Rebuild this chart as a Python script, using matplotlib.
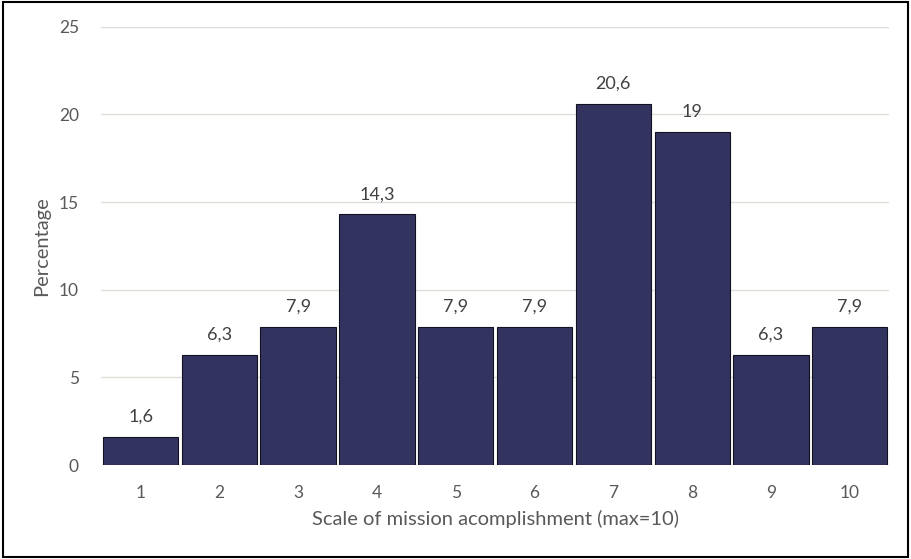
import matplotlib.pyplot as plt
from matplotlib.patches import Rectangle

plt.rcParams['font.family'] = ['Lato', 'DejaVu Sans']

scale = ['1', '2', '3', '4', '5', '6', '7', '8', '9', '10']
percentage = [1.6, 6.3, 7.9, 14.3, 7.9, 7.9, 20.6, 19, 6.3, 7.9]

txt = '#595959'
fig = plt.figure(figsize=(9.11, 5.59), dpi=100)
ax = fig.add_axes([0.111, 0.168, 0.865, 0.784])

bars = ax.bar(range(len(scale)), percentage, width=0.955, color='#33335F',
              edgecolor='#111122', linewidth=0.8, zorder=3)
for b, v in zip(bars, percentage):
    lab = f'{v:g}'.replace('.', ',')
    ax.text(b.get_x() + b.get_width() / 2, v + 0.7, lab, ha='center', va='bottom',
            fontsize=13, color='#404040')

ax.set_xlim(-0.5, len(scale) - 0.5)
ax.set_ylim(0, 25)
ax.set_yticks([0, 5, 10, 15, 20, 25])
ax.set_xticks(range(len(scale)))
ax.set_xticklabels(scale)
ax.grid(axis='y', color='#E0DCD8', linewidth=1, zorder=0)
ax.tick_params(length=0, labelsize=12.5, labelcolor=txt, pad=14)
ax.tick_params(axis='y', pad=16)
for s in ax.spines.values():
    s.set_visible(False)

ax.set_xlabel('Scale of mission acomplishment (max=10)', fontsize=14.5, color=txt, labelpad=7)
ax.set_ylabel('Percentage', fontsize=14.5, color=txt, labelpad=6)

# black frame round the whole figure
fig.patches.append(Rectangle((0.003, 0.004), 0.994, 0.992, transform=fig.transFigure,
                             fill=False, edgecolor='black', linewidth=1.5))

fig.savefig('out.png', dpi=100)
